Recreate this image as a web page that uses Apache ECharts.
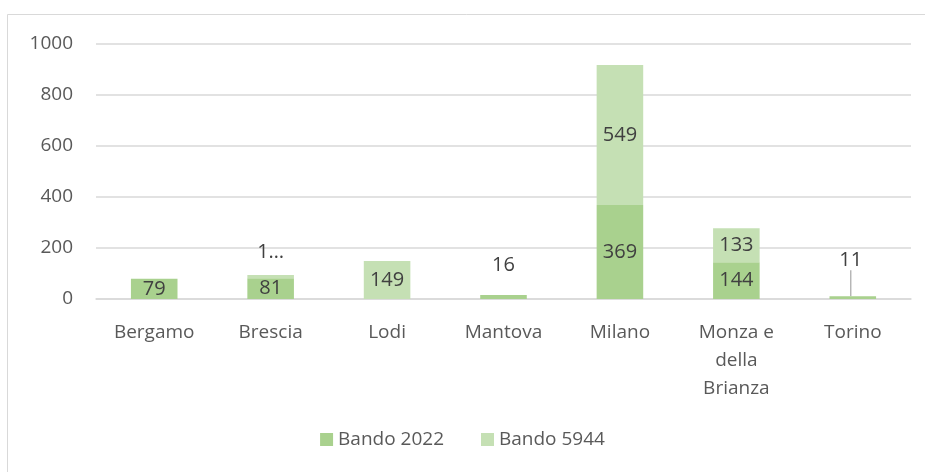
<!DOCTYPE html>
<html>
<head>
<meta charset="utf-8">
<script src="https://cdn.jsdelivr.net/npm/echarts@6/dist/echarts.min.js"></script>
<style>
  html, body { margin: 0; padding: 0; background: #fff; }
  #chart { width: 925px; height: 472px; }
</style>
</head>
<body>
<div id="chart"></div>
<script>
// Province categories and the two funding rounds
const categories = ['Bergamo', 'Brescia', 'Lodi', 'Mantova', 'Milano', 'Monza e\ndella\nBrianza', 'Torino'];
const bando2022 = [79, 81, null, 16, 369, 144, 11];
const bando5944 = [null, 13, 149, null, 549, 133, null];
const yTicks = [0, 200, 400, 600, 800, 1000];

const FONT = '"Open Sans", "Noto Sans", sans-serif';
const labelColor = '#404040';
const TEXT_SIZE = 19;

const chart = echarts.init(document.getElementById('chart'), null, { renderer: 'canvas' });

// Per-item label tweaks: small bars carry their label above the bar
const data2022 = bando2022.map((v, i) => {
  if (v === null) return null;
  if (categories[i] === 'Mantova') {
    return { value: v, label: { position: 'top', distance: 20 } };
  }
  if (categories[i] === 'Torino') {
    return {
      value: v,
      label: { position: 'top', distance: 0, padding: [0, 0, 3, 0] },
      labelLine: { show: true, lineStyle: { color: '#a6a6a6', width: 1.2 } }
    };
  }
  return v;
});

const data5944 = bando5944.map((v, i) => {
  if (v === null) return null;
  if (categories[i] === 'Brescia') {
    return { value: v, label: { position: 'top', distance: 13, formatter: '1…' } };
  }
  return v;
});

const torinoIndex = categories.indexOf('Torino');

chart.setOption({
  animation: false,
  backgroundColor: '#fff',
  textStyle: { fontFamily: FONT },
  graphic: [{
    type: 'rect',
    shape: { x: 7.5, y: 14.5, width: 940, height: 480 },
    style: { fill: 'none', stroke: '#d9d9d9', lineWidth: 1 },
    silent: true,
    z: -1
  }],
  grid: { left: 96, right: 14, top: 44, bottom: 173, containLabel: false },
  legend: {
    bottom: 18,
    left: 'center',
    itemWidth: 13,
    itemHeight: 13,
    itemGap: 37,
    icon: 'rect',
    textStyle: { color: '#595959', fontSize: TEXT_SIZE, fontFamily: FONT },
    data: ['Bando 2022', 'Bando 5944']
  },
  xAxis: {
    type: 'category',
    data: categories,
    axisLine: { lineStyle: { color: '#d9d9d9', width: 1.5 } },
    axisTick: { show: false },
    axisLabel: { color: '#595959', fontSize: TEXT_SIZE, fontFamily: FONT, margin: 20, lineHeight: 28, interval: 0 }
  },
  yAxis: {
    type: 'value',
    min: 0,
    max: 1000,
    interval: 200,
    axisLine: { show: false },
    axisTick: { show: false },
    splitLine: { lineStyle: { color: '#d9d9d9', width: 1.5 } },
    axisLabel: {
      color: '#595959', fontSize: TEXT_SIZE, fontFamily: FONT, margin: 23,
      formatter: v => (yTicks.includes(v) ? String(v) : '')
    }
  },
  series: [
    {
      name: 'Bando 2022',
      type: 'bar',
      stack: 'tot',
      barWidth: '40%',
      data: data2022,
      itemStyle: { color: '#a9d18e' },
      label: { show: true, position: 'inside', color: labelColor, fontSize: 20, fontFamily: FONT },
      // lift the Torino label clear of its thin bar; a guide line links them
      labelLayout: params => (params.dataIndex === torinoIndex ? { dy: -23, dx: -2 } : {})
    },
    {
      name: 'Bando 5944',
      type: 'bar',
      stack: 'tot',
      barWidth: '40%',
      data: data5944,
      itemStyle: { color: '#c5e0b4' },
      label: { show: true, position: 'inside', color: labelColor, fontSize: 20, fontFamily: FONT }
    }
  ]
});
</script>
</body>
</html>
